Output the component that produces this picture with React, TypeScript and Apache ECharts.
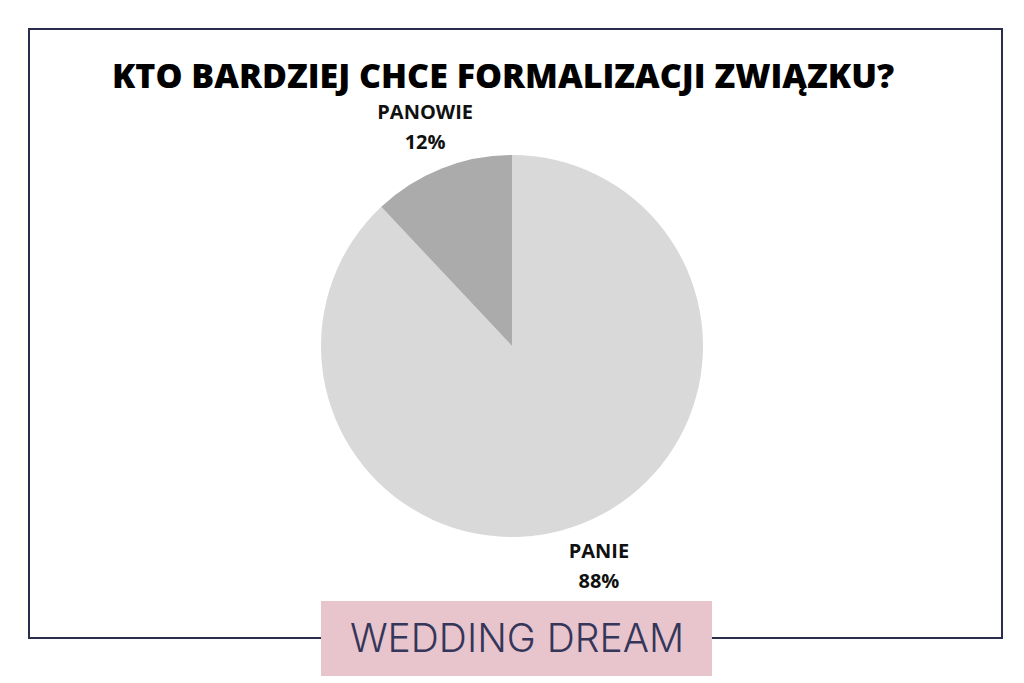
import React, { useEffect, useRef } from "react";
import * as echarts from "echarts";

const titleText = "KTO BARDZIEJ CHCE FORMALIZACJI ZWIĄZKU?";
const categories = ["PANIE", "PANOWIE"];
const shares = [88, 12];
const sliceColors = ["#d9d9d9", "#ababab"];
const brandText = "WEDDING DREAM";

export default function App() {
  const ref = useRef<HTMLDivElement>(null);
  useEffect(() => {
    document.body.style.margin = "0";
    const chart = echarts.init(ref.current!, null, { renderer: "svg" });
    const pieData = categories.map((name, i) => ({
      name,
      value: shares[i],
      itemStyle: { color: sliceColors[i] },
    }));
    const labelData = categories.map((name, i) => ({ name, value: shares[i] }));
    chart.setOption({
      animation: false,
      backgroundColor: "#ffffff",
      title: {
        text: titleText,
        left: 112,
        top: 57,
        padding: 0,
        textStyle: {
          fontFamily: "Open Sans",
          fontWeight: 800,
          fontSize: 34,
          lineHeight: 36,
          color: "#000000",
        },
      },
      graphic: [
        {
          type: "rect",
          z: 0,
          shape: { x: 29, y: 29, width: 973, height: 609 },
          style: { fill: "none", stroke: "#2b2d4e", lineWidth: 2 },
        },
        {
          type: "rect",
          z: 10,
          shape: { x: 321, y: 601, width: 391, height: 75 },
          style: { fill: "#e8c4cc" },
        },
        {
          type: "text",
          z: 11,
          x: 517,
          y: 637,
          style: {
            text: brandText,
            fontFamily: "Inter",
            fontWeight: 300,
            fontSize: 39,
            fill: "#34365a",
            align: "center",
            verticalAlign: "middle",
          },
        },
      ],
      series: [
        {
          type: "pie",
          center: [512, 346],
          radius: [0, 191],
          startAngle: 90,
          clockwise: true,
          label: { show: false },
          labelLine: { show: false },
          data: pieData,
        },
        {
          type: "pie",
          center: [512, 346],
          radius: [191, 275],
          startAngle: 90,
          clockwise: true,
          silent: true,
          itemStyle: { color: "rgba(0,0,0,0)" },
          labelLine: { show: false },
          label: {
            show: true,
            position: "inside",
            formatter: "{b}\n{c}%",
            fontFamily: "Open Sans",
            fontWeight: 700,
            fontSize: 20,
            lineHeight: 30,
            color: "#111111",
            align: "center",
          },
          data: labelData,
        },
      ],
    });
    return () => chart.dispose();
  }, []);
  return (
    <div
      ref={ref}
      style={{ position: "absolute", left: 0, top: 0, width: 1024, height: 683 }}
    />
  );
}
